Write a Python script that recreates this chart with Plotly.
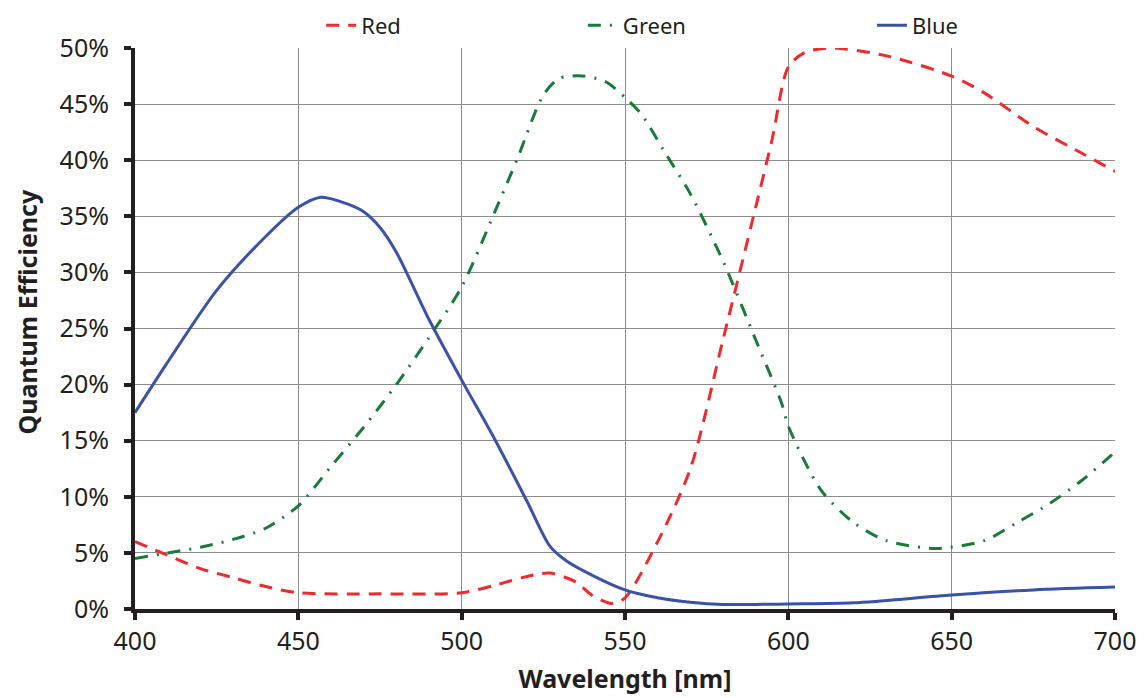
import plotly.graph_objects as go

# Wavelength [nm] and quantum efficiency [%]
red_wl = [400, 410, 420, 430, 440, 450, 475, 500, 510, 520, 527, 535, 540, 546, 550, 560, 570, 580, 590, 595, 600, 605, 613, 630, 650, 660, 675, 690, 700]
red_qe = [6.0, 4.8, 3.6, 2.8, 2.0, 1.45, 1.35, 1.45, 2.1, 2.9, 3.2, 2.4, 1.2, 0.5, 1.0, 6.0, 12.5, 24.0, 35.8, 41.8, 48.3, 49.6, 50.0, 49.3, 47.5, 46.0, 43.0, 40.6, 39.0]

green_wl = [400, 410, 420, 430, 440, 450, 460, 470, 480, 490, 500, 510, 517, 525, 530, 537, 544, 550, 555, 562, 570, 580, 590, 598, 600, 610, 620, 630, 645, 660, 670, 680, 690, 700]
green_qe = [4.5, 5.0, 5.5, 6.2, 7.2, 9.2, 12.7, 16.2, 20.0, 24.2, 28.7, 35.3, 40.1, 45.8, 47.3, 47.5, 47.0, 45.6, 44.1, 40.8, 37.0, 31.0, 24.0, 18.3, 16.3, 10.6, 7.7, 6.1, 5.4, 6.1, 7.7, 9.4, 11.5, 14.0]

blue_wl = [400, 410, 425, 440, 450, 457, 465, 470, 475, 480, 490, 500, 510, 520, 527, 532, 540, 550, 560, 570, 580, 600, 620, 650, 675, 700]
blue_qe = [17.5, 22.0, 28.4, 33.2, 35.8, 36.7, 36.1, 35.4, 34.0, 31.8, 25.8, 20.4, 15.2, 9.6, 5.6, 4.3, 3.0, 1.7, 1.0, 0.6, 0.4, 0.45, 0.55, 1.25, 1.7, 1.95]

x_ticks = [400, 450, 500, 550, 600, 650, 700]
y_ticks = [0, 5, 10, 15, 20, 25, 30, 35, 40, 45, 50]
y_tick_labels = [f"{v}%" for v in y_ticks]

FONT = "Noto Sans"
AXIS_COLOR = "#231f20"

fig = go.Figure()
fig.add_trace(go.Scatter(
    x=red_wl, y=red_qe, name="Red", mode="lines", legend="legend",
    line=dict(color="#ee2a2d", width=3, dash="13px,9px", shape="spline", smoothing=0.8),
))
fig.add_trace(go.Scatter(
    x=green_wl, y=green_qe, name="Green", mode="lines", legend="legend2",
    line=dict(color="#1b7a3a", width=3, dash="13px,9px,2px,9px", shape="spline", smoothing=0.8),
))
fig.add_trace(go.Scatter(
    x=blue_wl, y=blue_qe, name="Blue", mode="lines", legend="legend3",
    line=dict(color="#3a53a4", width=3, shape="spline", smoothing=0.8),
))

leg_common = dict(
    orientation="h", yanchor="middle", y=1.04, xanchor="left",
    font=dict(family=FONT, size=22, color="#231f20"),
    bgcolor="rgba(0,0,0,0)",
)

fig.update_layout(
    width=1138, height=690,
    margin=dict(l=127, r=31, t=40, b=89, autoexpand=False),
    paper_bgcolor="white", plot_bgcolor="white",
    font=dict(family=FONT, size=22, color="#231f20"),
    showlegend=True,
    legend=dict(x=0.19, **leg_common),
    legend2=dict(x=0.457, **leg_common),
    legend3=dict(x=0.752, **leg_common),
    xaxis=dict(
        range=[400, 700], tickvals=x_ticks,
        showgrid=True, gridcolor="#8c8c8c", gridwidth=1,
        showline=True, linecolor=AXIS_COLOR, linewidth=4,
        ticks="outside", ticklen=7, tickwidth=4, tickcolor=AXIS_COLOR,
        zeroline=False, automargin=False,
        title=dict(text="<b>Wavelength [nm]</b>", font=dict(family=FONT, size=25)),
        tickfont=dict(family=FONT, size=25),
    ),
    yaxis=dict(
        range=[0, 50], tickvals=y_ticks, ticktext=y_tick_labels,
        showgrid=True, gridcolor="#8c8c8c", gridwidth=1,
        showline=True, linecolor=AXIS_COLOR, linewidth=4,
        ticks="outside", ticklen=7, tickwidth=4, tickcolor=AXIS_COLOR,
        zeroline=False, automargin=False, ticklabelstandoff=10,
        tickfont=dict(family=FONT, size=25),
    ),
    annotations=[dict(
        text="<b>Quantum Efficiency</b>", textangle=-90,
        xref="paper", yref="paper", x=0, y=0.5, xanchor="center", yanchor="middle",
        xshift=-109, yshift=16, showarrow=False,
        font=dict(family=FONT, size=25, color="#231f20"),
    )],
)

fig.write_html("out.html")
